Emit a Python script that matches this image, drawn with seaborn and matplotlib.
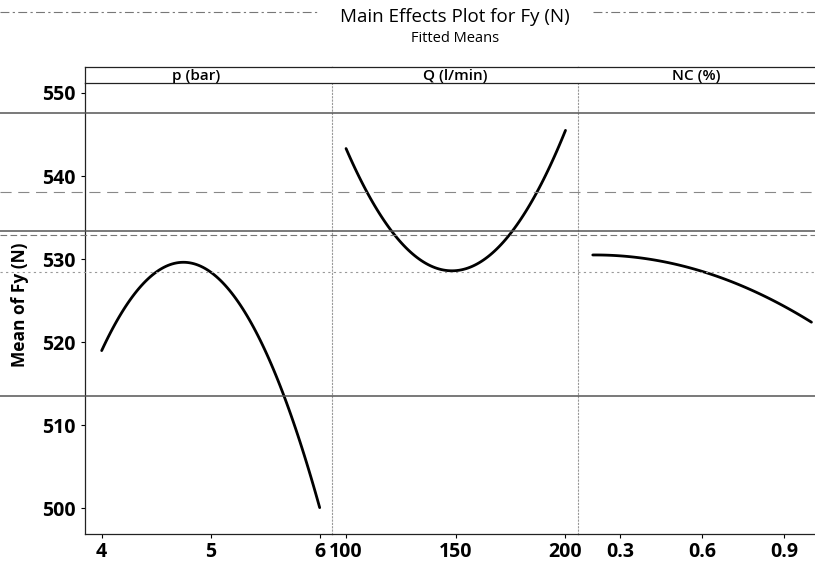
import matplotlib
matplotlib.use("Agg")
import matplotlib.pyplot as plt
import seaborn as sns
import pandas as pd
from matplotlib.lines import Line2D

# ---- data ----
p_levels = [4.0, 4.25, 4.5, 4.75, 5.0, 5.25, 5.5, 5.75, 6.0]
p_means = [519.0, 524.9, 528.4, 529.6, 528.4, 524.9, 519.0, 510.8, 500.0]

q_levels = [100, 112.5, 125, 137.5, 150, 162.5, 175, 187.5, 200]
q_means = [543.3, 536.7, 532.0, 529.3, 528.6, 529.9, 533.1, 538.3, 545.5]

nc_levels = [0.2, 0.3, 0.4, 0.5, 0.6, 0.7, 0.8, 0.9, 1.0]
nc_means = [530.5, 530.4, 530.0, 529.4, 528.5, 527.4, 526.0, 524.3, 522.4]

factor_names = ["p (bar)", "Q (l/min)", "NC (%)"]
p_ticks = [4, 5, 6]
q_ticks = [100, 150, 200]
nc_ticks = [0.3, 0.6, 0.9]
nc_tick_labels = ["0.3", "0.6", "0.9"]
y_ticks = [500, 510, 520, 530, 540, 550]

title = "Main Effects Plot for Fy (N)"
subtitle = "Fitted Means"
ylabel = "Mean of Fy (N)"

# ---- figure ----
sns.set_theme(style="white")
plt.rcParams["font.family"] = ["Open Sans", "DejaVu Sans"]
plt.rcParams["text.color"] = "black"
plt.rcParams["xtick.color"] = "black"
plt.rcParams["ytick.color"] = "black"

W, H = 815, 562
fig = plt.figure(figsize=(W / 100, H / 100), dpi=100)

def fx(px):
    return px / W

def fy(py):
    return 1 - py / H

top_px, bot_px = 83, 534
strip_top = 67
panels = [
    (85, 332, (3.847, 6.113), p_levels, p_means, p_ticks, [str(t) for t in p_ticks]),
    (332, 578, (93.6, 205.7), q_levels, q_means, q_ticks, [str(t) for t in q_ticks]),
    (578, 815, (0.146, 1.013), nc_levels, nc_means, nc_ticks, nc_tick_labels),
]
ylim = (496.9, 551.2)

for i, (x0, x1, xlim, lv, mn, tks, tkl) in enumerate(panels):
    ax = fig.add_axes([fx(x0), fy(bot_px), fx(x1 - x0), fy(top_px) - fy(bot_px)])
    df = pd.DataFrame({"level": lv, "mean": mn})
    # fitted (quadratic) means, as in the original main-effects plot
    sns.regplot(data=df, x="level", y="mean", ax=ax, order=2, ci=None,
                scatter=False, truncate=True,
                line_kws={"color": "black", "linewidth": 2.0})
    ax.set_xlim(*xlim)
    ax.set_ylim(*ylim)
    ax.set_xticks(tks)
    ax.set_xticklabels(tkl, fontsize=14, fontweight="bold")
    ax.set_yticks(y_ticks)
    if i == 0:
        ax.set_yticklabels([str(t) for t in y_ticks], fontsize=14, fontweight="bold")
        ax.tick_params(axis="y", length=3, width=0.8, pad=4, left=True)
    else:
        ax.set_yticklabels([])
        ax.tick_params(axis="y", length=0)
    ax.tick_params(axis="x", length=3, width=0.8, pad=3, bottom=True)
    ax.set_xlabel("")
    ax.set_ylabel("")
    ax.grid(False)
    for s in ax.spines.values():
        s.set_color("#222222")
        s.set_linewidth(0.9)
    ax.spines["top"].set_visible(False)
    if i == 0:
        ax.spines["left"].set_linestyle((0, (4, 1)))
    else:
        ax.spines["left"].set_color("#999999")
        ax.spines["left"].set_linestyle((0, (1, 2)))
        ax.spines["left"].set_linewidth(0.8)
    ax.spines["right"].set_visible(False)
    ax.spines["bottom"].set_linestyle((0, (6, 1)))

    # strip with factor name
    sax = fig.add_axes([fx(x0), fy(top_px), fx(x1 - x0), fy(strip_top) - fy(top_px)])
    sax.set_xticks([])
    sax.set_yticks([])
    for k, s in sax.spines.items():
        s.set_color("#222222")
        s.set_linewidth(0.9)
    sax.spines["left"].set_visible(i == 0)
    sax.spines["right"].set_visible(False)
    sax.text(0.5 if i else 0.45, 0.45, factor_names[i], ha="center", va="center",
             fontsize=11, fontweight="semibold", transform=sax.transAxes)

fig.text(fx(455), fy(17), title, ha="center", va="center", fontsize=13.5)
fig.text(fx(455), fy(39), subtitle, ha="center", va="center", fontsize=10.5)
fig.text(fx(20), fy(305), ylabel, ha="center", va="center", rotation=90,
         fontsize=12.5, fontweight="bold")

# scan lines visible across the reference
def hline(py, color, lw, ls="-", x0=0, x1=W):
    fig.add_artist(Line2D([fx(x0), fx(x1)], [fy(py), fy(py)], transform=fig.transFigure,
                          color=color, linewidth=lw, linestyle=ls, zorder=0.5))

hline(12, "#777777", 0.8, (0, (8, 3, 2, 3)), 0, 318)
hline(12, "#777777", 0.8, (0, (8, 3, 2, 3)), 593, W)
hline(112.7, "#555555", 1.1)
hline(191.5, "#888888", 0.8, (0, (10, 6)))
hline(231, "#555555", 1.1)
hline(234.5, "#777777", 0.8, (0, (6, 3)))
hline(272, "#999999", 0.8, (0, (2, 3)))
hline(395.7, "#555555", 1.1)

fig.savefig("out.png", dpi=100)
